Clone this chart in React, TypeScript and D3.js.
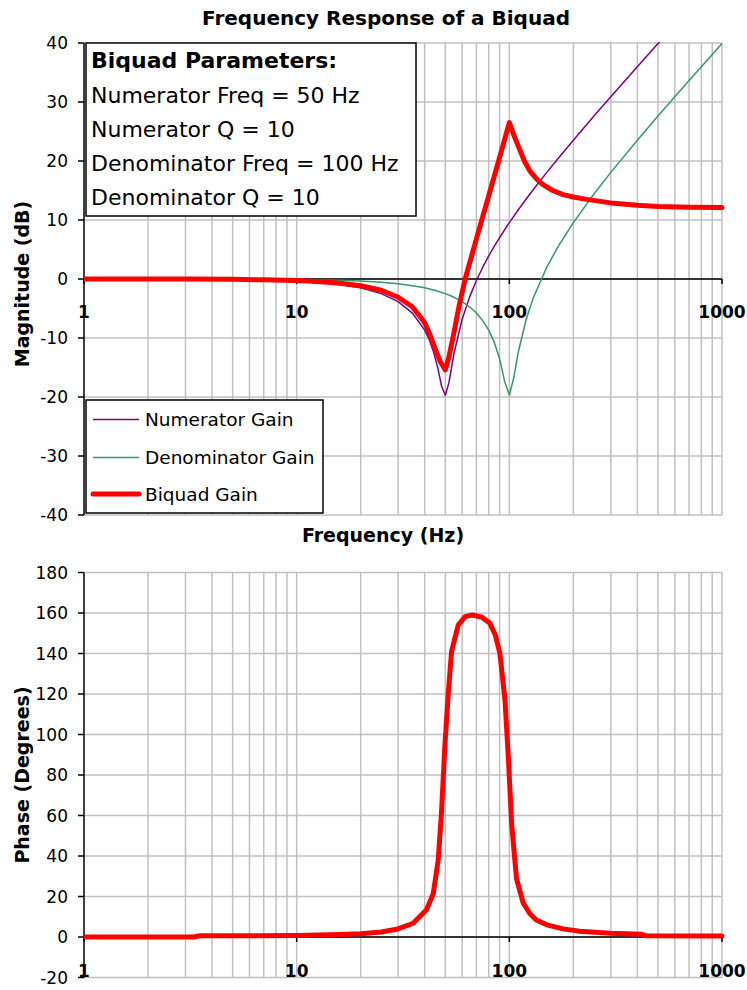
import React from "react";
import * as d3 from "d3";

// ---------- data ----------
const magTicks = [-40, -30, -20, -10, 0, 10, 20, 30, 40];
const phaseTicks = [-20, 0, 20, 40, 60, 80, 100, 120, 140, 160, 180];
const freqLabels = [1, 10, 100, 1000];
const gridFreqs = [2, 3, 4, 5, 6, 7, 8, 9, 10, 20, 30, 40, 50, 60, 70, 80, 90, 100, 200, 300, 400, 500, 600, 700, 800, 900, 1000];

const paramLines = [
  "Numerator Freq = 50 Hz",
  "Numerator Q = 10",
  "Denominator Freq = 100 Hz",
  "Denominator Q = 10",
];

const numFreq = [1, 5, 10, 15, 20, 25, 30, 35, 40, 42, 44, 46, 48, 50, 52, 55, 60, 65, 70, 75, 80, 85, 90, 100, 110, 120, 130, 150, 170, 200, 250, 300, 400, 500, 520];
const numGain = [0, -0.09, -0.35, -0.81, -1.5, -2.48, -3.84, -5.77, -8.66, -10.28, -12.32, -14.94, -18.14, -19.7, -17.57, -12.5, -6.82, -3.07, -0.26, 2.0, 3.91, 5.56, 7.03, 9.56, 11.7, 13.56, 15.22, 18.07, 20.48, 23.52, 27.61, 30.88, 35.99, 39.91, 40.6];

const denFreq = [1, 5, 10, 15, 20, 25, 30, 35, 40, 45, 50, 55, 60, 65, 70, 75, 80, 85, 90, 95, 100, 105, 110, 120, 130, 150, 170, 200, 250, 300, 400, 500, 600, 700, 800, 1000];
const denGain = [0, -0.02, -0.09, -0.2, -0.35, -0.56, -0.81, -1.13, -1.5, -1.95, -2.48, -3.1, -3.84, -4.71, -5.77, -7.06, -8.66, -10.75, -13.55, -17.32, -19.7, -16.67, -12.5, -6.82, -3.07, 2.0, 5.56, 9.56, 14.41, 18.07, 23.52, 27.61, 30.88, 33.63, 35.99, 39.91];

const biqFreq = [1, 2, 3, 5, 7, 10, 13, 16, 20, 25, 30, 35, 40, 42.4, 45, 47.2, 50, 52, 55, 58, 62, 70, 80, 90, 100, 106, 112, 118, 125, 135, 144, 160, 179, 200, 231, 300, 400, 500, 700, 1000];
const biqGain = [0, -0.01, -0.02, -0.06, -0.13, -0.27, -0.45, -0.72, -1.15, -1.9, -3.1, -4.7, -7.4, -9.5, -12.0, -13.9, -15.4, -13.2, -9.0, -4.6, 0, 6.8, 14.1, 20.6, 26.5, 24.0, 21.9, 19.9, 18.3, 16.9, 16.0, 15.0, 14.3, 13.9, 13.5, 12.9, 12.5, 12.3, 12.15, 12.1];

const phaseFreq = [1, 3.3, 3.5, 10, 16, 20, 25, 29.5, 35.3, 40.8, 43.9, 46.3, 48, 49.8, 51.6, 53.5, 57.5, 62, 67, 74, 81, 86, 90.3, 95.4, 98.9, 102.5, 108, 116, 125, 134, 150, 179, 214, 300, 420, 440, 1000];
const phaseDeg = [0, 0, 0.6, 0.7, 1.2, 1.6, 2.5, 3.8, 6.8, 13.5, 21.5, 38, 62, 95, 120, 141, 154, 158.2, 159, 158, 155, 149, 140, 117, 89, 56, 29, 17, 11.5, 8.4, 6.0, 4.0, 2.8, 1.8, 1.3, 0.6, 0.5];

// ---------- layout ----------
const W = 747;
const H = 990;
const FONT = "DejaVu Sans";
const GRID = "#c0c0c0";
const RED = "#ff0000";
const PURPLE = "#800080";
const GREEN = "#339966";

const x = d3.scaleLog().domain([1, 1000]).range([84, 722]);
const yMag = d3.scaleLinear().domain([-40, 40]).range([515, 43]);
const yPh = d3.scaleLinear().domain([-20, 180]).range([977.5, 572.5]);

function series(fs: number[], vs: number[]) {
  return d3.zip(fs, vs) as [number, number][];
}

export default function App() {
  const magLine = d3.line<[number, number]>().x((d) => x(d[0])).y((d) => yMag(d[1]));
  const phLine = d3.line<[number, number]>().x((d) => x(d[0])).y((d) => yPh(d[1]));
  const [x0, x1] = x.range();

  const grid = (y: d3.ScaleLinear<number, number>, ticks: number[]) => {
    const [yb, yt] = y.range();
    return (
      <g>
        {ticks.map((t) => (
          <line key={"h" + t} x1={x0} x2={x1} y1={y(t)} y2={y(t)} stroke={GRID} strokeWidth={1.5} />
        ))}
        {gridFreqs.map((f) => (
          <line key={"v" + f} x1={x(f)} x2={x(f)} y1={yt} y2={yb} stroke={GRID} strokeWidth={1.5} />
        ))}
      </g>
    );
  };

  const axes = (y: d3.ScaleLinear<number, number>, ticks: number[], labelY: number) => {
    const [yb, yt] = y.range();
    return (
      <g>
        <line x1={x0} x2={x1} y1={y(0)} y2={y(0)} stroke="#000" strokeWidth={1.5} />
        {freqLabels.map((f) => (
          <line key={"xt" + f} x1={x(f)} x2={x(f)} y1={y(0)} y2={y(0) + 5} stroke="#000" strokeWidth={1.5} />
        ))}
        <line x1={x0} x2={x0} y1={yt} y2={yb} stroke="#000" strokeWidth={1.5} />
        {ticks.map((t) => (
          <g key={"yt" + t}>
            <line x1={x0 - 6} x2={x0} y1={y(t)} y2={y(t)} stroke="#000" strokeWidth={1.5} />
            <text x={68} y={y(t)} dy="0.36em" textAnchor="end" fontFamily={FONT} fontSize={17} fill="#000">
              {t}
            </text>
          </g>
        ))}
        {freqLabels.map((f) => (
          <text key={"xl" + f} x={x(f)} y={labelY} textAnchor="middle" fontFamily={FONT} fontSize={17} fontWeight="bold" fill="#000">
            {f}
          </text>
        ))}
      </g>
    );
  };

  const legendItems = [
    { label: "Numerator Gain", color: PURPLE, w: 1.5 },
    { label: "Denominator Gain", color: GREEN, w: 1.5 },
    { label: "Biquad Gain", color: RED, w: 5 },
  ];
  const legendYs = [419.5, 457.5, 494];

  return (
    <svg
      width={W}
      height={H}
      viewBox={`0 0 ${W} ${H}`}
      style={{ position: "absolute", left: 0, top: 0, background: "#fff" }}
    >
      <defs>
        <clipPath id="clipTop">
          <rect x={x0} y={yMag(40) - 1} width={x1 - x0 + 3} height={yMag(-40) - yMag(40) + 2} />
        </clipPath>
        <clipPath id="clipBot">
          <rect x={x0} y={yPh(180) - 1} width={x1 - x0 + 3} height={yPh(-20) - yPh(180) + 2} />
        </clipPath>
      </defs>
      <rect x={0} y={0} width={W} height={H} fill="#fff" />

      {/* Title */}
      <text x={386} y={25} textAnchor="middle" fontFamily={FONT} fontSize={20} fontWeight="bold">
        Frequency Response of a Biquad
      </text>

      {/* ---------- Magnitude chart ---------- */}
      {grid(yMag, magTicks)}
      {axes(yMag, magTicks, 318)}
      <g clipPath="url(#clipTop)" fill="none" strokeLinejoin="round">
        <path d={magLine(series(numFreq, numGain)) || ""} stroke={PURPLE} strokeWidth={1.5} />
        <path d={magLine(series(denFreq, denGain)) || ""} stroke={GREEN} strokeWidth={1.5} />
        <path d={magLine(series(biqFreq, biqGain)) || ""} stroke={RED} strokeWidth={5} strokeLinecap="round" />
      </g>

      {/* Parameter box */}
      <rect x={86} y={43} width={330} height={173} fill="#fff" stroke="#000" strokeWidth={1.5} />
      <text x={91} y={68} fontFamily={FONT} fontSize={22} fontWeight="bold">
        Biquad Parameters:
      </text>
      {paramLines.map((s, i) => (
        <text key={s} x={91} y={103 + i * 34} fontFamily={FONT} fontSize={22}>
          {s}
        </text>
      ))}

      {/* Legend */}
      <rect x={86} y={400} width={237} height={113} fill="#fff" stroke="#000" strokeWidth={1.5} />
      {legendItems.map((it, i) => (
        <g key={it.label}>
          <line x1={93} x2={139} y1={legendYs[i]} y2={legendYs[i]} stroke={it.color} strokeWidth={it.w} strokeLinecap={it.w > 2 ? "round" : "butt"} />
          <text x={145} y={legendYs[i]} dy="0.36em" fontFamily={FONT} fontSize={18.5}>
            {it.label}
          </text>
        </g>
      ))}

      {/* Axis titles */}
      <text x={383} y={542} textAnchor="middle" fontFamily={FONT} fontSize={19} fontWeight="bold">
        Frequency (Hz)
      </text>
      <text transform={`translate(29, ${(yMag(40) + yMag(-40)) / 2 + 5}) rotate(-90)`} textAnchor="middle" fontFamily={FONT} fontSize={19} fontWeight="bold">
        Magnitude (dB)
      </text>

      {/* ---------- Phase chart ---------- */}
      {grid(yPh, phaseTicks)}
      {axes(yPh, phaseTicks, 976.5)}
      <g clipPath="url(#clipBot)" fill="none" strokeLinejoin="round">
        <path d={phLine(series(phaseFreq, phaseDeg)) || ""} stroke={RED} strokeWidth={5} strokeLinecap="round" />
      </g>
      <text transform={`translate(29, ${(yPh(180) + yPh(-20)) / 2}) rotate(-90)`} textAnchor="middle" fontFamily={FONT} fontSize={19} fontWeight="bold">
        Phase (Degrees)
      </text>
    </svg>
  );
}
